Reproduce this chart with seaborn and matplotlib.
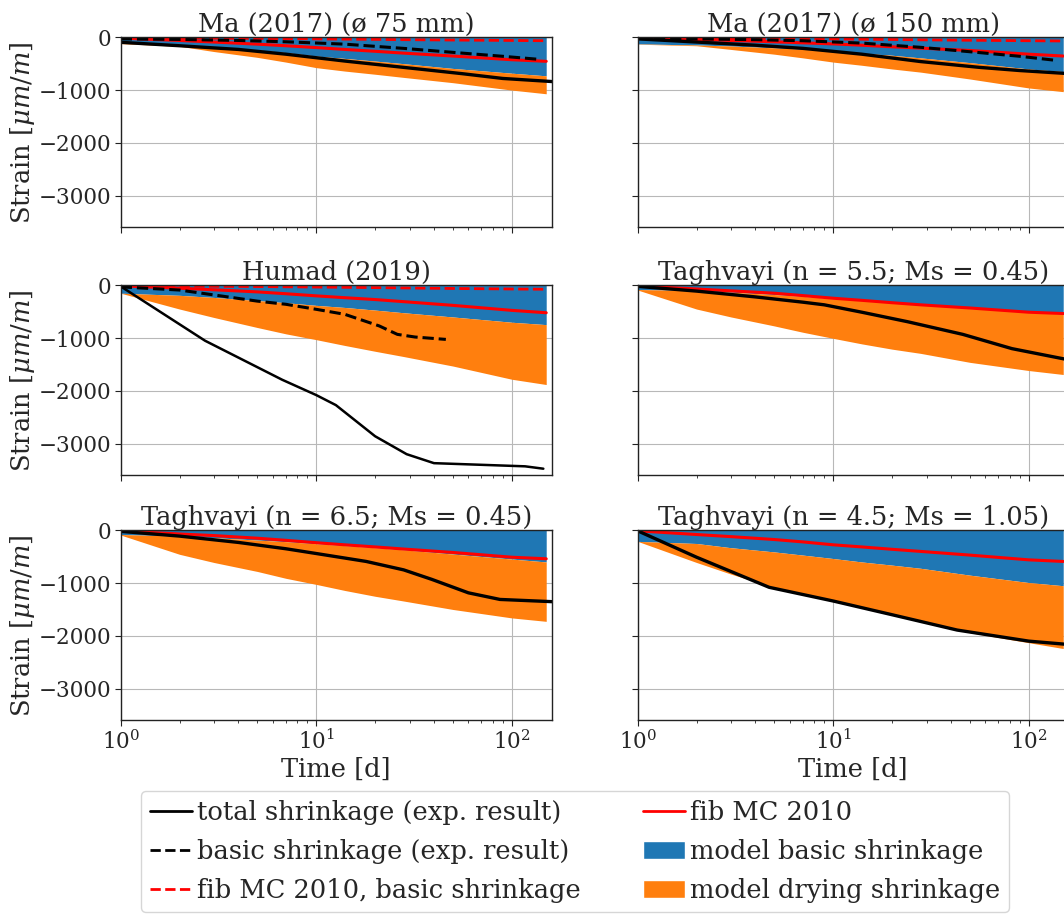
import numpy as np
import pandas as pd
import matplotlib
matplotlib.use("Agg")
import matplotlib.pyplot as plt
from matplotlib.lines import Line2D
from matplotlib.patches import Patch
import seaborn as sns

# ---------------- data ----------------
TITLES = ["Ma (2017) (ø 75 mm)", "Ma (2017) (ø 150 mm)", "Humad (2019)",
          "Taghvayi (n = 5.5; Ms = 0.45)", "Taghvayi (n = 6.5; Ms = 0.45)",
          "Taghvayi (n = 4.5; Ms = 1.05)"]

T_MODEL = [1, 2, 3, 5, 7, 10, 14, 20, 28, 50, 100, 150]

MODEL_BASIC = [
    [-110, -150, -185, -240, -290, -355, -400, -450, -500, -590, -680, -730],
    [-125, -145, -165, -200, -225, -260, -300, -340, -390, -480, -600, -650],
    [-150, -190, -230, -290, -330, -380, -420, -470, -520, -600, -700, -745],
    [-80, -100, -130, -175, -210, -250, -285, -320, -355, -420, -500, -545],
    [-80, -110, -140, -185, -215, -255, -290, -330, -370, -450, -545, -600],
    [-210, -250, -330, -410, -470, -535, -600, -660, -720, -850, -990, -1050],
]
MODEL_TOTAL = [
    [-120, -170, -270, -380, -470, -575, -640, -700, -760, -860, -1000, -1070],
    [-130, -160, -230, -320, -390, -470, -530, -600, -660, -790, -960, -1030],
    [-150, -450, -610, -800, -920, -1030, -1140, -1250, -1350, -1530, -1780, -1880],
    [-90, -450, -600, -770, -890, -1005, -1110, -1210, -1290, -1460, -1615, -1690],
    [-90, -455, -610, -780, -910, -1025, -1140, -1250, -1340, -1500, -1660, -1725],
    [-210, -610, -830, -1085, -1230, -1340, -1470, -1600, -1730, -1940, -2130, -2240],
]
FIB = [
    [-15, -60, -90, -130, -160, -195, -230, -265, -300, -355, -425, -455],
    [-10, -40, -60, -85, -105, -125, -150, -180, -205, -250, -320, -355],
    [-10, -55, -85, -125, -160, -200, -235, -270, -310, -380, -475, -520],
    [-10, -70, -105, -150, -195, -245, -285, -330, -370, -430, -510, -535],
    [-10, -70, -100, -150, -190, -235, -275, -315, -355, -420, -510, -540],
    [-10, -80, -120, -175, -220, -275, -315, -360, -400, -470, -560, -590],
]
FIB_BASIC = [
    [-10, -15, -18, -22, -25, -30, -35, -40, -45, -52, -60, -65],
    [-10, -15, -18, -23, -27, -32, -37, -42, -48, -56, -65, -70],
    [-10, -15, -19, -24, -28, -33, -38, -44, -50, -60, -70, -75],
    None, None, None,
]

EXP_TOTAL_T = [
    [1, 2, 4, 7, 14, 28, 56, 90, 180],
    [1, 2, 4, 7, 14, 28, 56, 90, 180],
    [1, 2.7, 6.7, 10, 12.6, 20, 29, 40, 117, 145],
    [1, 2, 4, 7, 9, 14, 24, 46, 82, 180],
    [1, 2, 4, 7, 10, 18, 28, 39, 60, 87, 180],
    [1, 2, 4.7, 10, 20, 43, 100, 180],
]
EXP_TOTAL_V = [
    [-95, -160, -230, -320, -450, -570, -690, -780, -850],
    [-30, -90, -150, -210, -320, -460, -570, -630, -700],
    [-20, -1050, -1790, -2080, -2270, -2860, -3200, -3370, -3430, -3475],
    [-20, -110, -220, -320, -370, -510, -690, -930, -1200, -1450],
    [-20, -110, -230, -350, -440, -590, -750, -930, -1185, -1310, -1360],
    [-10, -510, -1080, -1340, -1600, -1890, -2100, -2180],
]
EXP_BASIC_T = [
    [1, 2, 4, 7, 14, 28, 56, 90, 140],
    [1, 2, 4, 7, 14, 28, 56, 90, 140],
    [1, 2, 5, 7, 10, 14, 21, 26, 32, 46],
    None, None, None,
]
EXP_BASIC_V = [
    [-30, -40, -60, -85, -130, -210, -300, -360, -420],
    [-20, -30, -45, -65, -110, -190, -290, -360, -440],
    [-30, -90, -300, -360, -455, -550, -770, -930, -980, -1025],
    None, None, None,
]

Y_TICKS = [0, -1000, -2000, -3000]
LEGEND_LABELS = ["total shrinkage (exp. result)", "basic shrinkage (exp. result)",
                 "fib MC 2010, basic shrinkage", "fib MC 2010",
                 "model basic shrinkage", "model drying shrinkage"]

BLUE = "#1f77b4"
ORANGE = "#ff7f0e"

# ---------------- style ----------------
sns.set_style("ticks", {"axes.grid": True, "grid.color": "#b0b0b0",
                        "axes.edgecolor": "#222222"})
plt.rcParams["font.family"] = ["DejaVu Serif"]
plt.rcParams["mathtext.fontset"] = "dejavuserif"
plt.rcParams["xtick.labelsize"] = 15.5
plt.rcParams["ytick.labelsize"] = 15.5
plt.rcParams["axes.linewidth"] = 1.0

W, H = 1064, 918
fig, axes = plt.subplots(3, 2, figsize=(W / 100, H / 100), dpi=100,
                         sharex=True, sharey=True)

lefts = [120.7, 637.7]
tops = [37.3, 285.3, 530.3]
aw, ah = 431.0, 190.0

for i in range(6):
    r, c = divmod(i, 2)
    ax = axes[r, c]
    ax.set_position([lefts[c] / W, 1 - (tops[r] + ah) / H, aw / W, ah / H])
    t = np.array(T_MODEL, dtype=float)
    b = np.array(MODEL_BASIC[i], dtype=float)
    tot = np.array(MODEL_TOTAL[i], dtype=float)
    ax.fill_between(t, 0, b, color=BLUE, lw=0, zorder=2)
    ax.fill_between(t, b, tot, color=ORANGE, lw=0, zorder=2)

    if FIB_BASIC[i] is not None:
        sns.lineplot(x=T_MODEL, y=FIB_BASIC[i], ax=ax, color="red", lw=2,
                     linestyle="--", zorder=4, legend=False)
    sns.lineplot(x=T_MODEL, y=FIB[i], ax=ax, color="red", lw=2.2,
                 zorder=4, legend=False)
    if EXP_BASIC_T[i] is not None:
        sns.lineplot(x=EXP_BASIC_T[i], y=EXP_BASIC_V[i], ax=ax, color="black",
                     lw=2.2, linestyle="--", zorder=5, legend=False)
    sns.lineplot(x=EXP_TOTAL_T[i], y=EXP_TOTAL_V[i], ax=ax, color="black",
                 lw=1.8 if i == 2 else 2.4, zorder=5, legend=False)

    ax.set_xscale("log")
    ax.set_xlim(1, 160)
    ax.set_ylim(-3600, 0)
    ax.set_yticks(Y_TICKS)
    ax.grid(True, which="major", color="#b8b8b8", lw=0.8, zorder=0)
    ax.grid(False, which="minor")
    ax.set_axisbelow(True)
    ax.set_title(TITLES[i], fontsize=18.5, pad=2)
    ax.tick_params(which="both", direction="out", color="#222222")
    ax.tick_params(which="major", length=4, pad=3)
    ax.tick_params(which="minor", length=2.5)
    if c == 0:
        ax.set_ylabel(r"Strain [$\mu m/m$]", fontsize=18.5, labelpad=1)
    else:
        ax.set_ylabel("")
    if r == 2:
        ax.set_xlabel("Time [d]", fontsize=18.5, labelpad=2)
    else:
        ax.set_xlabel("")
    for s in ax.spines.values():
        s.set_zorder(6)

handles = [
    Line2D([], [], color="black", lw=2),
    Line2D([], [], color="black", lw=2, linestyle="--"),
    Line2D([], [], color="red", lw=2, linestyle="--"),
    Line2D([], [], color="red", lw=2),
    Patch(facecolor=BLUE),
    Patch(facecolor=ORANGE),
]
fig.legend(handles, LEGEND_LABELS, ncol=2, loc="upper center",
           bbox_to_anchor=(575 / W, 1 - 791 / H), borderaxespad=0,
           fontsize=18.5, handlelength=1.65, handletextpad=0.2,
           columnspacing=2.4, labelspacing=0.55, frameon=True, fancybox=True,
           edgecolor="#cccccc", borderpad=0.35)

fig.savefig("out.png", dpi=100)
